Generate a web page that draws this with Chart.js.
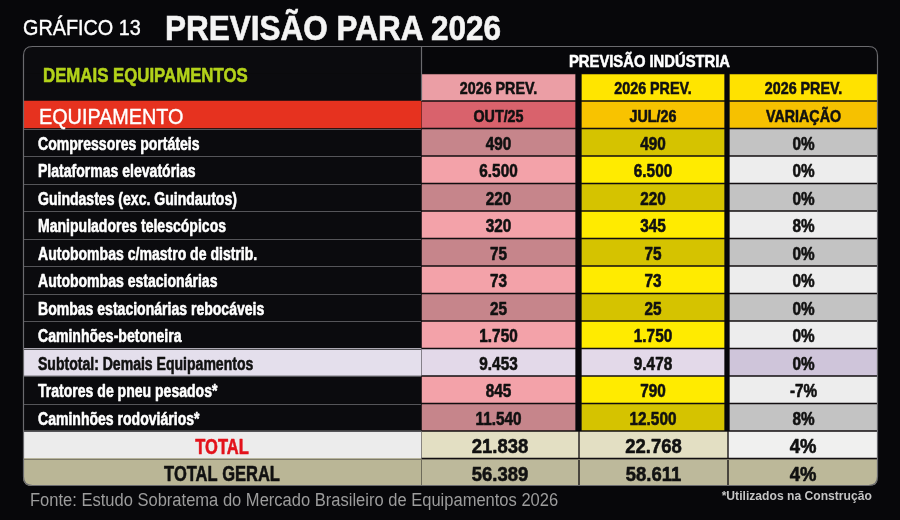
<!DOCTYPE html>
<html lang="pt-BR">
<head>
<meta charset="utf-8">
<title>Gráfico 13 - Previsão para 2026</title>
<script src="https://cdn.jsdelivr.net/npm/chart.js@4.4.1/dist/chart.umd.min.js"></script>
<style>
  html, body { margin: 0; padding: 0; background: #07070a; }
  #wrap { position: relative; width: 900px; height: 520px; overflow: hidden; background: #07070a; }
  #wrap canvas { position: absolute; left: 0; top: 0; }
  .txt {
    position: absolute; white-space: nowrap;
    font-family: "Liberation Sans", Arial, sans-serif;
    transform-origin: left top;
  }
  #grafico { left: 23px; top: 17px; font-size: 22px; line-height: 22px; color: #fff; transform: scaleX(0.9); -webkit-text-stroke: 0.4px #fff; }
  #titulo { left: 165px; top: 10px; font-size: 35px; line-height: 35px; font-weight: bold; color: #f4f4f4; transform: scaleX(0.9); -webkit-text-stroke: 0.6px #f4f4f4; }
  #fonte { left: 30px; top: 491px; font-size: 18px; line-height: 18px; color: #9c9c9c; transform: scaleX(0.918); }
  #nota { right: 28px; top: 490px; font-size: 12.5px; line-height: 12.5px; font-weight: bold; color: #c4c4c4; transform-origin: right top; transform: scaleX(0.97); }
</style>
</head>
<body>
<div id="wrap">
  <canvas id="myChart" width="900" height="520"></canvas>
  <div class="txt" id="grafico">GRÁFICO 13</div>
  <div class="txt" id="titulo">PREVISÃO PARA 2026</div>
  <div class="txt" id="fonte">Fonte: Estudo Sobratema do Mercado Brasileiro de Equipamentos 2026</div>
  <div class="txt" id="nota">*Utilizados na Construção</div>
</div>
<script>
// ---- data ----
const sectionTitle = 'DEMAIS EQUIPAMENTOS';
const firstColTitle = 'EQUIPAMENTO';
const headerTop = 'PREVISÃO INDÚSTRIA';
const colHeads = ['2026 PREV.', '2026 PREV.', '2026 PREV.'];
const colSubs = ['OUT/25', 'JUL/26', 'VARIAÇÃO'];

const items = [
    'Compressores portáteis',
    'Plataformas elevatórias',
    'Guindastes (exc. Guindautos)',
    'Manipuladores telescópicos',
    'Autobombas c/mastro de distrib.',
    'Autobombas estacionárias',
    'Bombas estacionárias rebocáveis',
    'Caminhões-betoneira',
    'Subtotal: Demais Equipamentos',
    'Tratores de pneu pesados*',
    'Caminhões rodoviários*'
];
const out25 = [490, 6500, 220, 320, 75, 73, 25, 1750, 9453, 845, 11540];
const jul26 = [490, 6500, 220, 345, 75, 73, 25, 1750, 9478, 790, 12500];
const variacao = [0, 0, 0, 8, 0, 0, 0, 0, 0, -7, 8];

const totalLabels = ['TOTAL', 'TOTAL GERAL'];
const totalOut25 = [21838, 56389];
const totalJul26 = [22768, 58611];
const totalVariacao = [4, 4];

const subtotalIndex = 8;

// ---- layout (x units = px from table left) ----
const TABLE_W = 855;
const LABEL_COL = [0, 398];
const VALUE_COLS = [[398, 553], [558, 702], [706, 855]];
const TOTAL_COLS = [[398, 556], [556, 705], [705, 855]];
const SANS = '"Liberation Sans", Arial, sans-serif';

const rowLabels = [headerTop, colHeads[0], firstColTitle].concat(items, totalLabels);
const FIRST_ITEM = 3;
const FIRST_TOTAL = FIRST_ITEM + items.length;

function rowKind(i) {
    if (i === 0) return 'top';
    if (i === 1) return 'head';
    if (i === 2) return 'sub';
    if (i === FIRST_TOTAL) return 'total';
    if (i === FIRST_TOTAL + 1) return 'geral';
    const k = i - FIRST_ITEM;
    if (k === subtotalIndex) return 'subtotal';
    return k % 2 === 0 ? 'dark' : 'light';
}

const leftColors = { top: '#0b0b0e', head: '#0b0b0e', sub: '#e6321f', dark: '#0b0b0e', light: '#0b0b0e',
    subtotal: '#e4dfec', total: '#ececec', geral: '#bab696' };
const cellColors = [
    { head: '#eb9ea5', sub: '#d9626c', dark: '#c6858b', light: '#f3a2a9', subtotal: '#e3d9e9', total: '#e3dfc3', geral: '#bdb99b' },
    { head: '#ffe500', sub: '#f8c300', dark: '#d5c300', light: '#ffeb00', subtotal: '#e3d9e9', total: '#e3dfc3', geral: '#bdb99b' },
    { head: '#ffe200', sub: '#f6c100', dark: '#c3c3c3', light: '#ededed', subtotal: '#cfc5da', total: '#f0f0ef', geral: '#bcb899' }
];

function fmt(n) {
    return String(n).replace(/\B(?=(\d{3})+(?!\d))/g, '.');
}

// cell backgrounds as floating horizontal bars, one dataset per column
const leftData = rowLabels.map(() => LABEL_COL.slice());
const leftBg = rowLabels.map((l, i) => leftColors[rowKind(i)]);

const colDatasets = VALUE_COLS.map((c, ci) => {
    const data = rowLabels.map((l, i) => {
        const kind = rowKind(i);
        if (kind === 'top') return null;
        if (kind === 'total' || kind === 'geral') return TOTAL_COLS[ci].slice();
        return c.slice();
    });
    const bg = rowLabels.map((l, i) => {
        const kind = rowKind(i);
        return kind === 'top' ? 'transparent' : cellColors[ci][kind];
    });
    return {
        label: colSubs[ci],
        data: data,
        backgroundColor: bg,
        borderColor: 'rgba(60,40,40,0.22)',
        borderWidth: 1,
        borderSkipped: false,
        grouped: false,
        barPercentage: 1,
        categoryPercentage: 1
    };
});

function cellText(i, ci) {
    const kind = rowKind(i);
    if (kind === 'head') return colHeads[ci];
    if (kind === 'sub') return colSubs[ci];
    if (kind === 'total' || kind === 'geral') {
        const t = i - FIRST_TOTAL;
        return [fmt(totalOut25[t]), fmt(totalJul26[t]), totalVariacao[t] + '%'][ci];
    }
    const k = i - FIRST_ITEM;
    return [fmt(out25[k]), fmt(jul26[k]), variacao[k] + '%'][ci];
}

function roundRectPath(ctx, x, y, w, h, r) {
    ctx.beginPath();
    ctx.moveTo(x + r, y);
    ctx.lineTo(x + w - r, y);
    ctx.quadraticCurveTo(x + w, y, x + w, y + r);
    ctx.lineTo(x + w, y + h - r);
    ctx.quadraticCurveTo(x + w, y + h, x + w - r, y + h);
    ctx.lineTo(x + r, y + h);
    ctx.quadraticCurveTo(x, y + h, x, y + h - r);
    ctx.lineTo(x, y + r);
    ctx.quadraticCurveTo(x, y, x + r, y);
    ctx.closePath();
}

// the picture uses a heavy condensed face: squeeze horizontally and thicken a little
function drawText(ctx, text, px, yc, size, weight, sx, align, color) {
    ctx.save();
    ctx.font = weight + ' ' + size + 'px ' + SANS;
    ctx.fillStyle = color;
    ctx.strokeStyle = color;
    ctx.lineWidth = weight === 'bold' ? 0.6 : 0.4;
    ctx.lineJoin = 'round';
    ctx.textAlign = align;
    ctx.textBaseline = 'alphabetic';
    ctx.translate(px, yc + 1 + size * 0.358);
    ctx.scale(sx, 1);
    ctx.fillText(text, 0, 0);
    ctx.strokeText(text, 0, 0);
    ctx.restore();
}

const tablePlugin = {
    id: 'tableText',
    beforeDatasetsDraw(chart) {
        const { ctx, chartArea: a } = chart;
        ctx.save();
        roundRectPath(ctx, a.left, a.top, a.right - a.left, a.bottom - a.top, 9);
        ctx.clip();
    },
    afterDatasetsDraw(chart) {
        const { ctx, chartArea: a, scales: { x, y } } = chart;
        const rowH = y.getPixelForValue(1) - y.getPixelForValue(0);
        const edge = (i) => y.getPixelForValue(i) - rowH / 2;
        const mid = (c) => x.getPixelForValue((c[0] + c[1]) / 2);

        // grey row rules in the label column
        ctx.strokeStyle = '#555559';
        ctx.lineWidth = 1;
        for (let i = FIRST_ITEM; i <= FIRST_TOTAL; i++) {
            const yy = Math.round(edge(i)) + 0.5;
            ctx.beginPath();
            ctx.moveTo(x.getPixelForValue(LABEL_COL[0]), yy);
            ctx.lineTo(x.getPixelForValue(LABEL_COL[1]), yy);
            ctx.stroke();
        }
        // rule between total rows
        ctx.strokeStyle = '#7d7a68';
        ctx.beginPath();
        ctx.moveTo(a.left, Math.round(edge(FIRST_TOTAL + 1)) + 0.5);
        ctx.lineTo(a.right, Math.round(edge(FIRST_TOTAL + 1)) + 0.5);
        ctx.stroke();
        ctx.restore();

        // outer frame
        ctx.save();
        ctx.strokeStyle = '#6a6a6e';
        ctx.lineWidth = 1.2;
        roundRectPath(ctx, a.left + 0.5, a.top + 0.5, a.right - a.left - 1, a.bottom - a.top - 1, 9);
        ctx.stroke();
        const xs = Math.round(x.getPixelForValue(LABEL_COL[1])) + 0.5;
        ctx.beginPath();
        ctx.moveTo(xs, a.top);
        ctx.lineTo(xs, edge(2));
        ctx.stroke();
        ctx.restore();

        // section title spanning the first two rows
        drawText(ctx, sectionTitle, x.getPixelForValue(20), (y.getPixelForValue(0) + y.getPixelForValue(1)) / 2,
            21, 'bold', 0.8, 'left', '#b3d21a');
        // industry header
        drawText(ctx, headerTop, x.getPixelForValue((VALUE_COLS[0][0] + VALUE_COLS[2][1]) / 2), y.getPixelForValue(0),
            17, 'bold', 0.87, 'center', '#ffffff');
        // first column title
        drawText(ctx, firstColTitle, x.getPixelForValue(16), y.getPixelForValue(2), 22, 'normal', 0.9, 'left', '#ffffff');

        for (let i = 1; i < rowLabels.length; i++) {
            const kind = rowKind(i);
            const yc = y.getPixelForValue(i);
            const big = kind === 'total' || kind === 'geral';

            // row label
            if (i >= FIRST_ITEM) {
                if (big) {
                    drawText(ctx, rowLabels[i], mid(LABEL_COL), yc, 22, 'bold', 0.75, 'center',
                        kind === 'total' ? '#e3121b' : '#111111');
                } else {
                    drawText(ctx, rowLabels[i], x.getPixelForValue(15), yc, 18, 'bold', 0.78, 'left',
                        kind === 'subtotal' ? '#111111' : '#ffffff');
                }
            }

            // value cells
            const cols = big ? TOTAL_COLS : VALUE_COLS;
            for (let ci = 0; ci < cols.length; ci++) {
                if (kind === 'head' || kind === 'sub') {
                    drawText(ctx, cellText(i, ci), mid(cols[ci]), yc, 17, 'bold', 0.84, 'center', '#111111');
                } else if (big) {
                    drawText(ctx, cellText(i, ci), mid(cols[ci]), yc, 21, 'bold', 0.88, 'center', '#111111');
                } else {
                    drawText(ctx, cellText(i, ci), mid(cols[ci]), yc, 18, 'bold', 0.85, 'center', '#111111');
                }
            }
        }
    }
};

const ctx = document.getElementById('myChart');
const myChart = new Chart(ctx, {
    type: 'bar',
    data: {
        labels: rowLabels,
        datasets: [{
            label: firstColTitle,
            data: leftData,
            backgroundColor: leftBg,
            borderWidth: 0,
            grouped: false,
            barPercentage: 1,
            categoryPercentage: 1
        }].concat(colDatasets)
    },
    options: {
        indexAxis: 'y',
        responsive: false,
        animation: false,
        events: [],
        layout: { padding: { left: 23, right: 22, top: 46, bottom: 34 } },
        scales: {
            x: { type: 'linear', min: 0, max: TABLE_W, display: false },
            y: { type: 'category', display: false }
        },
        plugins: {
            legend: { display: false },
            tooltip: { enabled: false }
        }
    },
    plugins: [tablePlugin]
});
</script>
</body>
</html>
